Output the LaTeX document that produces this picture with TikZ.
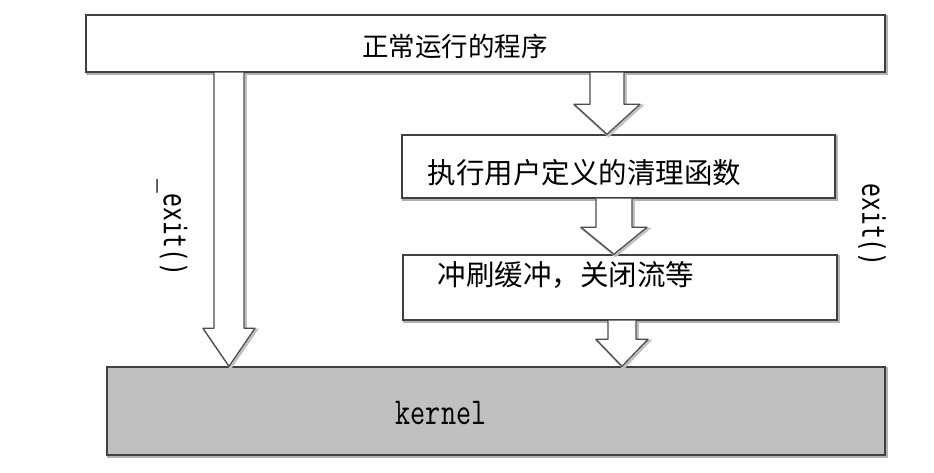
\documentclass[tikz,border=0pt]{standalone}
\usepackage{fontspec}
\usetikzlibrary{calc}
\newfontfamily\cjk{Noto Sans CJK SC}
\newfontfamily\dvm{DejaVu Sans Mono}
\definecolor{kgray}{RGB}{192,192,192}
\tikzset{
  boxshape/.style={rectangle, draw=black!75, line width=1.4pt, fill=white, inner sep=0pt,
    preaction={draw=black!30, line width=2.5pt, transform canvas={shift={(1.5pt,-1.5pt)}}}},
  blk/.style={draw=black!70, line width=1.3pt, fill=white, line join=round,
    preaction={draw=black!25, line width=2.5pt, transform canvas={shift={(1.5pt,-1.5pt)}}}},
  cjktext/.style={font=\cjk\fontsize{27}{27}\selectfont, inner sep=0pt}
}
\newcommand\blkarrow[6]{%
  \draw[blk] ($(#1 |- #2)+(-#4,0)$) -- ($(#1 |- #3)+(-#4,-#6)$) -- ($(#1 |- #3)+(-#5,-#6)$)
    -- (#1 |- #3) -- ($(#1 |- #3)+(#5,-#6)$) -- ($(#1 |- #3)+(#4,-#6)$) -- ($(#1 |- #2)+(#4,0)$);}
\begin{document}
\begin{tikzpicture}[x=1pt,y=-1pt]
\useasboundingbox (0,0) rectangle (934,472);
% boxes
\node[boxshape, minimum width=799pt, minimum height=57pt] (top) at (485.5,43.5) {};
\node[boxshape, minimum width=433pt, minimum height=63pt] (clean) at (618.5,166.5) {};
\node[boxshape, minimum width=434pt, minimum height=65pt] (flush) at (620,287.5) {};
\node[boxshape, fill=kgray, minimum width=778pt, minimum height=88pt] (kernel) at (496,411) {};
% texts
\node[cjktext, font=\cjk\fontsize{26.5}{26.5}\selectfont] (toptxt) at (455,46) {正常运行的程序};
\node[cjktext, font=\cjk\fontsize{28.5}{28.5}\selectfont] (cleantxt) at (584.5,173) {执行用户定义的清理函数};
\node[cjktext, font=\cjk\fontsize{28.5}{28.5}\selectfont] (flushtxt) at (566,275) {冲刷缓冲，关闭流等};
\node[inner sep=0pt] (kerneltxt) at (441,413) {\scalebox{0.77}[1]{\fontsize{38}{38}\ttfamily kernel}};
\node[inner sep=0pt, rotate=-90] (lexit) at (172,228) {\scalebox{0.74}[1]{\fontsize{31}{31}\dvm \_exit()}};
\node[inner sep=0pt, rotate=-90] (rexit) at (872,225) {\scalebox{0.74}[1]{\fontsize{31}{31}\dvm exit()}};
% x positions of arrows
\coordinate (xL) at (229,0);
\coordinate (xA) at (607,0);
\coordinate (xB) at (614,0);
\coordinate (xC) at (622,0);
\blkarrow{xL}{top.south}{kernel.north}{15}{26}{38}
\blkarrow{xA}{top.south}{clean.north}{17}{33}{30}
\blkarrow{xB}{clean.south}{flush.north}{18}{33}{27}
\blkarrow{xC}{flush.south}{kernel.north}{14}{26}{27}
\end{tikzpicture}
\end{document}
